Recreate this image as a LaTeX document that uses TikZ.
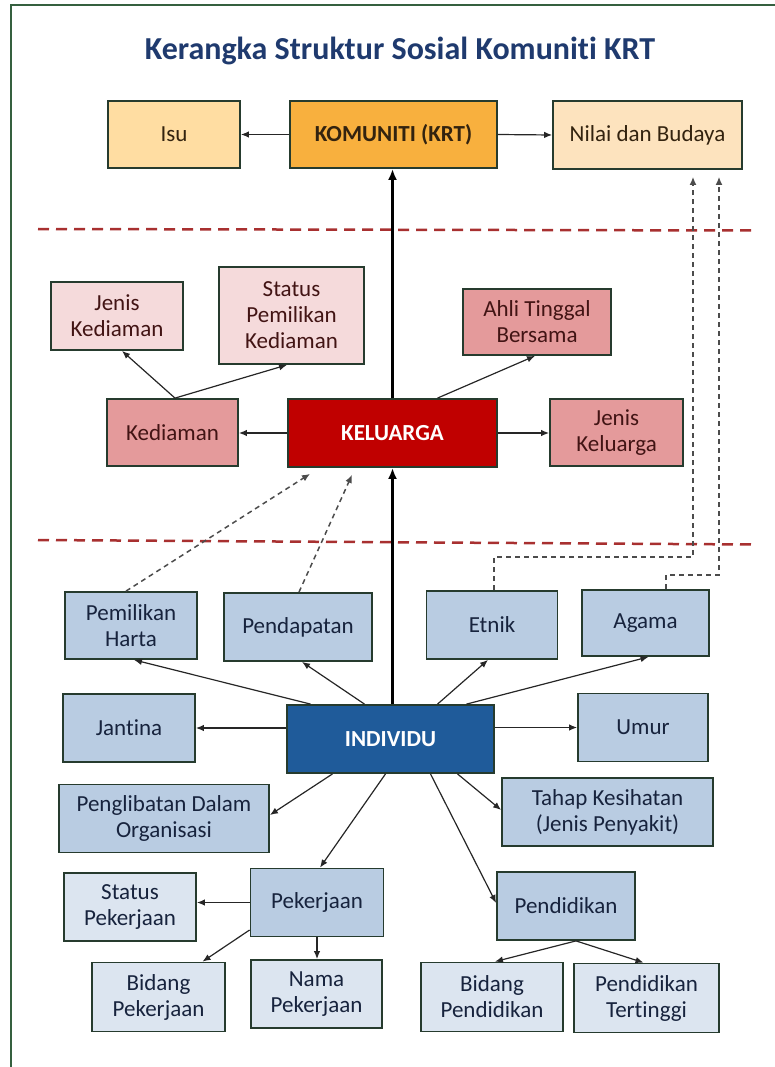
\documentclass[tikz,border=0pt]{standalone}
\usepackage{fontspec}
\setmainfont[RawFeature={-liga}]{Carlito}
\usetikzlibrary{arrows.meta}
\definecolor{framec}{HTML}{35603F}
\definecolor{titlec}{HTML}{1F3A6E}
\definecolor{boxline}{HTML}{263B2E}
\definecolor{isufill}{HTML}{FFDDA2}
\definecolor{komfill}{HTML}{F8B03E}
\definecolor{nilfill}{HTML}{FDE3BE}
\definecolor{lpink}{HTML}{F5DADB}
\definecolor{mpink}{HTML}{E49A9B}
\definecolor{kelfill}{HTML}{C00000}
\definecolor{mblue}{HTML}{B9CCE2}
\definecolor{lblue}{HTML}{DCE5F0}
\definecolor{indfill}{HTML}{1F5B9A}
\definecolor{redsep}{HTML}{A83030}
\definecolor{tbrown}{HTML}{33230F}
\definecolor{tmaroon}{HTML}{421414}
\definecolor{tnavy}{HTML}{17233D}
\tikzset{
  box/.style={draw=boxline, line width=1.8pt, align=center, inner sep=0pt,
    font=\fontsize{23}{26}\selectfont},
  orng/.style={box, text=tbrown},
  pnk/.style={box, text=tmaroon},
  blu/.style={box, text=tnavy},
  arr/.style={-{Latex[length=8pt,width=6.5pt]}, line width=1.2pt, draw=black!85},
  thk/.style={-{Latex[length=11pt,width=9pt]}, line width=3pt, draw=black},
  dsh/.style={-{Latex[length=8pt,width=7pt]}, line width=1.5pt, draw=black!70, dash pattern=on 5pt off 4pt},
  redline/.style={line width=2.5pt, draw=redsep, dash pattern=on 11pt off 7pt},
  framel/.style={line width=2.5pt, draw=framec}
}
\begin{document}
\begin{tikzpicture}[x=1pt,y=-1pt]
\useasboundingbox (0,0) rectangle (775,1067);
\draw[framel] (11,1070) -- (11,5) -- (778,5);
\node[text=titlec, font=\fontsize{32}{36}\selectfont\bfseries, anchor=base] (title) at (400,60) {Kerangka Struktur Sosial Komuniti KRT};

% top row
\node[orng, fill=isufill, minimum width=132pt, minimum height=67pt] (isu) at (174,134.5) {Isu};
\node[orng, fill=komfill, minimum width=207pt, minimum height=67pt, font=\fontsize{23}{26}\selectfont\bfseries] (kom) at (393.5,134.5) {KOMUNITI (KRT)};
\node[orng, fill=nilfill, minimum width=189pt, minimum height=68pt] (nil) at (647.5,135) {Nilai dan Budaya};

% separators
\draw[redline] (38,229) -- (753,230.5);
\draw[redline] (38,540) -- (753,544.5);

% family level
\node[pnk, fill=lpink, minimum width=132pt, minimum height=68pt] (jkd) at (117,316) {Jenis\\Kediaman};
\node[pnk, fill=lpink, minimum width=145pt, minimum height=97pt] (spk) at (291.5,315.5) {Status\\Pemilikan\\Kediaman};
\node[pnk, fill=mpink, minimum width=148pt, minimum height=66pt] (atb) at (537,322) {Ahli Tinggal\\Bersama};
\node[pnk, fill=mpink, minimum width=131pt, minimum height=67pt] (kdm) at (172.5,432.5) {Kediaman};
\node[box, fill=kelfill, text=white, minimum width=209pt, minimum height=68pt, font=\fontsize{23}{26}\selectfont\bfseries] (kel) at (392.5,433) {KELUARGA};
\node[pnk, fill=mpink, minimum width=133pt, minimum height=67pt] (jkl) at (616.5,432.5) {Jenis\\Keluarga};

% individual level
\node[blu, fill=mblue, minimum width=132pt, minimum height=67pt] (ph) at (131,625.5) {Pemilikan\\Harta};
\node[blu, fill=mblue, minimum width=148pt, minimum height=68pt] (pd) at (298,627) {Pendapatan};
\node[blu, fill=mblue, minimum width=131pt, minimum height=68pt] (et) at (492,625) {Etnik};
\node[blu, fill=mblue, minimum width=127pt, minimum height=66pt] (ag) at (645.5,623) {Agama};
\node[blu, fill=mblue, minimum width=132pt, minimum height=68pt] (jan) at (129,728) {Jantina};
\node[box, fill=indfill, text=white, minimum width=207pt, minimum height=68pt, font=\fontsize{23}{26}\selectfont\bfseries] (ind) at (390.5,739) {INDIVIDU};
\node[blu, fill=mblue, minimum width=130pt, minimum height=68pt] (um) at (643,727.5) {Umur};
\node[blu, fill=mblue, minimum width=210pt, minimum height=68pt] (pen) at (164,818.5) {Penglibatan Dalam\\Organisasi};
\node[blu, fill=mblue, minimum width=211pt, minimum height=68pt] (th) at (607.5,812) {Tahap Kesihatan\\(Jenis Penyakit)};
\node[blu, fill=lblue, minimum width=132pt, minimum height=68pt] (sp) at (130,907) {Status\\Pekerjaan};
\node[blu, fill=mblue, minimum width=133pt, minimum height=68pt] (pk) at (317,902.5) {Pekerjaan};
\node[blu, fill=mblue, minimum width=138pt, minimum height=68pt] (pdk) at (566,906) {Pendidikan};
\node[blu, fill=lblue, minimum width=133pt, minimum height=69pt] (bp) at (158.5,997) {Bidang\\Pekerjaan};
\node[blu, fill=lblue, minimum width=131pt, minimum height=68pt] (np) at (316.5,994) {Nama\\Pekerjaan};
\node[blu, fill=lblue, minimum width=142pt, minimum height=69pt] (bpd) at (492,997) {Bidang\\Pendidikan};
\node[blu, fill=lblue, minimum width=145pt, minimum height=69pt] (pt) at (646.5,998) {Pendidikan\\Tertinggi};

% top connectors
\draw[arr] (kom.west) -- (isu.east);
\draw[arr] (kom.east) -- (nil.west);
\draw[thk] (kel.north) -- (kel.north |- kom.south);

% family connectors
\draw[arr] (kel.west) -- (kel.west -| kdm.east);
\draw[arr] (kel.east) -- (kel.east -| jkl.west);
\draw[arr] ([xshift=2.5pt]kdm.north) -- ([xshift=5pt]jkd.south);
\draw[arr] ([xshift=2.5pt]kdm.north) -- ([xshift=-4.5pt]spk.south);
\draw[arr] ([xshift=45pt]kel.north) -- ([xshift=-2pt]atb.south);
\draw[thk] (kel.south |- ind.north) -- (kel.south);

% dashed links
\draw[dsh] ([xshift=-5pt]ph.north) -- ([xshift=-82.5pt,yshift=-6pt]kel.south);
\draw[dsh] ([xshift=1pt]pd.north) -- ([xshift=-40.5pt,yshift=-7pt]kel.south);
\draw[dsh] ([xshift=2pt]et.north) -- ++(0,-33) -| ([xshift=45.5pt,yshift=-7pt]nil.south);
\draw[dsh] ([xshift=20.5pt]ag.north) -- ++(0,-14) -| ([xshift=71.5pt,yshift=-7pt]nil.south);

% individual connectors
\draw[arr] ([xshift=-80pt]ind.north) -- ([xshift=3pt]ph.south);
\draw[arr] ([xshift=-26pt]ind.north) -- ([xshift=4pt]pd.south);
\draw[arr] ([xshift=47pt]ind.north) -- ([xshift=-4pt]et.south);
\draw[arr] ([xshift=76pt]ind.north) -- ([xshift=3pt]ag.south);
\draw[arr] (ind.west |- jan.east) -- (jan.east);
\draw[arr] (ind.east |- um.west) -- (um.west);
\draw[arr] ([xshift=-58pt]ind.south) -- ([yshift=3.5pt]pen.east);
\draw[arr] ([xshift=-5pt]ind.south) -- ([xshift=3pt]pk.north);
\draw[arr] ([xshift=40pt]ind.south) -- ([yshift=3pt]pdk.west);
\draw[arr] ([xshift=67pt]ind.south) -- ([yshift=2pt]th.west);

% work and education
\draw[arr] (pk.west) -- (pk.west -| sp.east);
\draw[arr] ([yshift=-27.5pt]pk.west) -- ([xshift=44pt]bp.north);
\draw[arr] (pk.south) -- (pk.south |- np.north);
\draw[arr] ([xshift=10pt]pdk.south) -- ([xshift=3pt]bpd.north);
\draw[arr] ([xshift=10pt]pdk.south) -- ([xshift=-3pt]pt.north);
\end{tikzpicture}
\end{document}
